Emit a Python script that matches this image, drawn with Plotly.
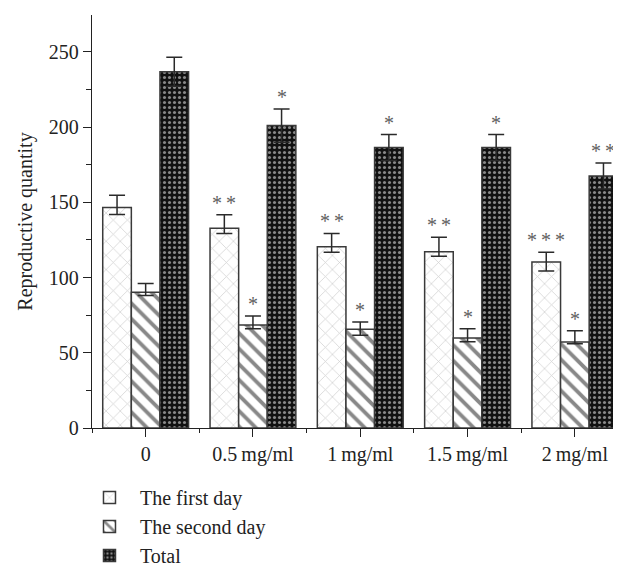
import plotly.graph_objects as go

categories = ["0", "0.5\u2009mg/ml", "1\u2009mg/ml", "1.5\u2009mg/ml", "2\u2009mg/ml"]
series_names = ["The first day", "The second day", "Total"]

first_day = [146.6, 132.7, 120.4, 117.2, 110.4]
first_up = [8.1, 9.0, 8.9, 9.6, 6.4]
first_dn = [4.7, 3.5, 3.6, 3.0, 6.0]
first_stars = ["", "**", "**", "**", "***"]

second_day = [90.2, 68.4, 65.6, 59.8, 57.1]
second_up = [5.9, 6.0, 4.9, 6.1, 7.5]
second_dn = [2.2, 2.5, 4.0, 2.5, 1.1]
second_stars = ["", "*", "*", "*", "*"]

total = [236.8, 201.0, 186.4, 186.4, 167.5]
total_up = [9.6, 11.0, 8.6, 8.6, 8.7]
total_dn = [9.6, 11.0, 8.6, 8.6, 8.7]
total_stars = ["", "*", "*", "*", "**"]

FONT = "Liberation Serif"
TXT = "#222222"
x = list(range(len(categories)))

values = [first_day, second_day, total]
ups = [first_up, second_up, total_up]
dns = [first_dn, second_dn, total_dn]
stars = [first_stars, second_stars, total_stars]
patterns = [
    dict(shape="x", fgcolor="#a8a8a8", bgcolor="white", size=10, solidity=0.15),
    dict(shape="\\", fgcolor="#111111", bgcolor="white", size=11, solidity=0.35),
    dict(shape=".", fgcolor="white", bgcolor="#111111", size=5, solidity=0.3),
]

fig = go.Figure()
for k in range(3):
    fig.add_trace(go.Bar(
        x=x, y=values[k], name=series_names[k],
        marker=dict(color="white", pattern=patterns[k],
                    line=dict(color="#3a3a3a", width=1.5)),
        error_y=dict(type="data", symmetric=False, array=ups[k], arrayminus=dns[k],
                     color="#2a2a2a", thickness=1.5, width=8),
    ))

bargap = 0.2
bw = (1 - bargap) / 3
annotations = []
for k in range(3):
    for i in range(len(categories)):
        s = stars[k][i]
        if not s:
            continue
        annotations.append(dict(
            x=i + (k - 1) * bw, y=values[k][i] + ups[k][i], xref="x", yref="y",
            text="\u2009".join(s), showarrow=False, yanchor="middle", yshift=12,
            font=dict(family=FONT, size=20, color="#606060"),
        ))

# page body has an 8px default margin, so the figure is shifted by 8px
fig.update_layout(
    width=613, height=567,
    margin=dict(l=84, r=0, t=7, b=131),
    paper_bgcolor="white", plot_bgcolor="white",
    barmode="group", bargap=bargap, bargroupgap=0,
    font=dict(family=FONT, size=20, color=TXT),
    annotations=annotations,
    legend=dict(x=-0.0246, y=-0.1217, xanchor="left", yanchor="top",
                font=dict(family=FONT, size=20, color=TXT), itemwidth=51,
                traceorder="normal", bgcolor="rgba(0,0,0,0)"),
    showlegend=True,
)
fig.update_xaxes(
    range=[-0.5, 4.43], tickmode="array", tickvals=x, ticktext=categories,
    showline=True, linecolor=TXT, linewidth=1.3,
    ticks="outside", ticklen=8, tickwidth=1.3, tickcolor=TXT,
    minor=dict(tick0=-0.5, dtick=1, ticks="outside", ticklen=4, tickwidth=1.3,
               tickcolor=TXT),
    showgrid=False, zeroline=False,
    tickfont=dict(family=FONT, size=20, color=TXT),
)
fig.update_yaxes(
    range=[0, 274.5], tickmode="linear", tick0=0, dtick=50,
    showline=True, linecolor=TXT, linewidth=1.3,
    ticks="outside", ticklen=8, tickwidth=1.3, tickcolor=TXT,
    minor=dict(dtick=25, ticks="outside", ticklen=5, tickwidth=1.3, tickcolor=TXT),
    showgrid=False, zeroline=False,
    title=dict(text="Reproductive quantity", font=dict(family=FONT, size=20, color=TXT),
               standoff=10),
    tickfont=dict(family=FONT, size=20, color=TXT),
)

fig.write_html("out.html")
